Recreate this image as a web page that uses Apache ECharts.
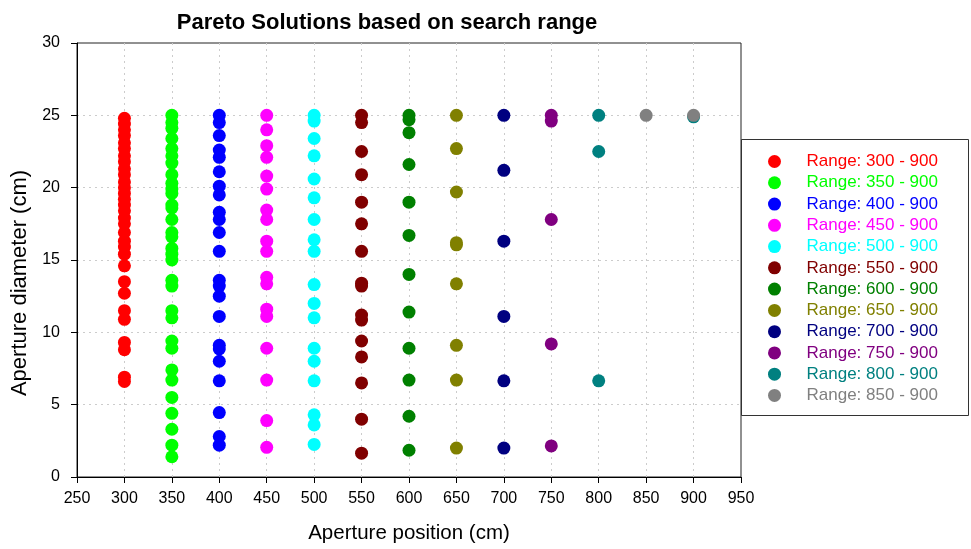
<!DOCTYPE html>
<html>
<head>
<meta charset="utf-8">
<script src="https://cdn.jsdelivr.net/npm/echarts@6/dist/echarts.min.js"></script>
<style>
  html, body { margin: 0; padding: 0; background: #ffffff; }
  #chart { width: 971px; height: 549px; }
</style>
</head>
<body>
<div id="chart"></div>
<script>
// ---- Data ----
const seriesNames = [
  'Range: 300 - 900', 'Range: 350 - 900', 'Range: 400 - 900', 'Range: 450 - 900',
  'Range: 500 - 900', 'Range: 550 - 900', 'Range: 600 - 900', 'Range: 650 - 900',
  'Range: 700 - 900', 'Range: 750 - 900', 'Range: 800 - 900', 'Range: 850 - 900'
];
const seriesColors = [
  '#ff0000', '#00ff00', '#0000ff', '#ff00ff', '#00ffff', '#800000',
  '#008000', '#808000', '#000080', '#800080', '#008080', '#808080'
];

// Each point: [aperture position (cm), aperture diameter (cm)]
const range300 = [[300,24.8],[300,24.4],[300,24.0],[300,23.6],[300,23.1],[300,22.7],[300,22.2],[300,21.8],[300,21.3],[300,20.9],[300,20.4],[300,20.0],[300,19.6],[300,19.2],[300,18.8],[300,18.4],[300,17.9],[300,17.5],[300,16.9],[300,16.3],[300,15.9],[300,15.4],[300,14.6],[300,13.5],[300,12.7],[300,11.5],[300,10.9],[300,9.3],[300,8.8],[300,6.9],[300,6.6]];
const range350 = [[350,25.0],[350,24.5],[350,24.1],[350,23.4],[350,22.7],[350,22.2],[350,21.7],[350,20.9],[350,20.3],[350,19.9],[350,19.6],[350,18.8],[350,18.6],[350,17.8],[350,16.9],[350,16.6],[350,15.8],[350,15.4],[350,15.0],[350,13.6],[350,13.2],[350,11.5],[350,11.0],[350,9.4],[350,8.9],[350,7.4],[350,6.7],[350,5.5],[350,4.4],[350,3.3],[350,2.2],[350,1.4]];
const range400 = [[400,25.0],[400,24.5],[400,23.6],[400,22.6],[400,22.1],[400,21.1],[400,20.1],[400,19.5],[400,18.3],[400,17.8],[400,16.9],[400,15.6],[400,13.6],[400,13.2],[400,12.5],[400,11.1],[400,9.1],[400,8.85],[400,8.0],[400,6.65],[400,4.45],[400,2.8],[400,2.2]];
const range450 = [[450,25.0],[450,24.0],[450,22.9],[450,22.1],[450,20.8],[450,19.9],[450,18.45],[450,17.8],[450,16.3],[450,15.6],[450,13.8],[450,13.35],[450,11.6],[450,11.1],[450,8.9],[450,6.7],[450,3.9],[450,2.05]];
const range500 = [[500,25.0],[500,24.6],[500,23.4],[500,22.2],[500,20.6],[500,19.3],[500,17.8],[500,16.4],[500,15.6],[500,13.3],[500,12.0],[500,11.0],[500,8.9],[500,8.0],[500,6.65],[500,4.3],[500,3.6],[500,2.25]];
const range550 = [[550,25.0],[550,24.5],[550,22.5],[550,20.9],[550,19.0],[550,17.5],[550,15.6],[550,13.4],[550,13.2],[550,11.2],[550,10.85],[550,9.4],[550,8.3],[550,6.5],[550,4.0],[550,1.65]];
const range600 = [[600,25.0],[600,24.7],[600,23.8],[600,21.6],[600,19.0],[600,16.7],[600,14.0],[600,11.4],[600,8.9],[600,6.7],[600,4.2],[600,1.85]];
const range650 = [[650,25.0],[650,22.7],[650,19.7],[650,16.2],[650,16.05],[650,13.35],[650,9.1],[650,6.7],[650,2.0]];
const range700 = [[700,25.0],[700,21.2],[700,16.3],[700,11.1],[700,6.65],[700,2.0]];
const range750 = [[750,25.0],[750,24.6],[750,17.8],[750,9.2],[750,2.15]];
const range800 = [[800,25.0],[800,22.5],[800,6.65],[900,24.9]];
const range850 = [[850,25.0],[900,25.0]];
const seriesData = [range300, range350, range400, range450, range500, range550,
                    range600, range650, range700, range750, range800, range850];

const xTicks = { min: 250, max: 950, step: 50 };
const yTicks = { min: 0, max: 30, step: 5 };

// ---- Chart ----
const FONT = '"Liberation Sans", Arial, sans-serif';
const chart = echarts.init(document.getElementById('chart'), null, { renderer: 'canvas' });

const series = seriesNames.map((name, i) => ({
  name: name,
  type: 'scatter',
  data: seriesData[i],
  symbol: 'circle',
  symbolSize: 13,
  itemStyle: { color: seriesColors[i], opacity: 1 },
  emphasis: { disabled: true },
  z: 3 + i
}));

chart.setOption({
  backgroundColor: '#ffffff',
  animation: false,
  title: {
    text: 'Pareto Solutions based on search range',
    left: 382,
    top: 7,
    textAlign: 'center',
    textStyle: { fontFamily: FONT, fontWeight: 'bold', fontSize: 22, color: '#000000' }
  },
  grid: {
    left: 77, top: 43, right: 230, bottom: 72,
    show: true, borderColor: '#222222', borderWidth: 1, backgroundColor: 'transparent'
  },
  legend: {
    orient: 'vertical',
    left: 768,
    top: 153,
    padding: 0,
    itemWidth: 54,
    itemHeight: 13,
    itemGap: 4.27,
    icon: 'circle',
    selectedMode: false,
    textStyle: { fontFamily: FONT, fontSize: 17, lineHeight: 17 },
    data: seriesNames.map((n, i) => ({ name: n, textStyle: { color: seriesColors[i] } }))
  },
  graphic: [{
    type: 'rect',
    shape: { x: 741.5, y: 139.5, width: 227, height: 276 },
    style: { fill: 'none', stroke: '#333333', lineWidth: 1 },
    z: 0
  }],
  xAxis: {
    type: 'value',
    min: xTicks.min, max: xTicks.max, interval: xTicks.step,
    name: 'Aperture position (cm)',
    nameLocation: 'middle',
    nameGap: 46,
    nameTextStyle: { fontFamily: FONT, fontSize: 20.5, color: '#000000' },
    axisLine: { show: true, onZero: false, lineStyle: { color: '#000000', width: 1 } },
    axisTick: { show: true, length: 6, inside: false, lineStyle: { color: '#000000' } },
    axisLabel: { fontFamily: FONT, fontSize: 16, color: '#000000', margin: 14 },
    splitLine: { show: true, showMinLine: false, showMaxLine: false, lineStyle: { color: '#cccccc', type: [2, 4], width: 1 } }
  },
  yAxis: {
    type: 'value',
    min: yTicks.min, max: yTicks.max, interval: yTicks.step,
    name: 'Aperture diameter (cm)',
    nameLocation: 'middle',
    nameGap: 44,
    nameTextStyle: { fontFamily: FONT, fontSize: 22, color: '#000000', padding: [0, 46, 0, 0] },
    axisLine: { show: true, onZero: false, lineStyle: { color: '#000000', width: 1 } },
    axisTick: { show: true, length: 6, inside: false, lineStyle: { color: '#000000' } },
    axisLabel: { fontFamily: FONT, fontSize: 16, color: '#000000', margin: 17 },
    splitLine: { show: true, showMinLine: false, showMaxLine: false, lineStyle: { color: '#cccccc', type: [2, 4], width: 1 } }
  },
  series: series
});
</script>
</body>
</html>
